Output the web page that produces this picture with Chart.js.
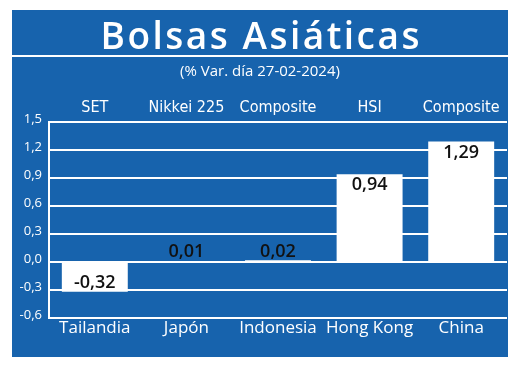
<!DOCTYPE html>
<html><head><meta charset="utf-8">
<script src="https://cdn.jsdelivr.net/npm/chart.js@4"></script>
<style>
html,body{margin:0;padding:0;background:#fff;}
#panel{position:absolute;left:12px;top:10px;width:496px;height:347px;background:#1763ad;}
canvas{display:block;}
</style></head><body>
<div id="panel"><canvas id="c" width="496" height="347"></canvas></div>
<script>
const countries = ['Tailandia', 'Japón', 'Indonesia', 'Hong Kong', 'China'];
const indices = ['SET', 'Nikkei 225', 'Composite', 'HSI', 'Composite'];
const changes = [-0.32, 0.01, 0.02, 0.94, 1.29];
const yTicks = [-0.6, -0.3, 0, 0.3, 0.6, 0.9, 1.2, 1.5];
const titleText = 'Bolsas Asiáticas';
const subtitleText = '(% Var. día 27-02-2024)';

const fmtTick = v => v.toFixed(1).replace('.', ',');
const fmtVal = v => v.toFixed(2).replace('.', ',');

const headerPlugin = {
  id: 'header',
  afterDraw(chart) {
    const ctx = chart.ctx, w = chart.width;
    ctx.save();
    ctx.fillStyle = '#fff';
    ctx.textAlign = 'center';
    ctx.textBaseline = 'alphabetic';
    ctx.font = '600 37px "Open Sans"';
    ctx.letterSpacing = '2.5px';
    ctx.fillText(titleText, w / 2 + 1.25, 39);
    ctx.letterSpacing = '0px';
    ctx.fillRect(0, 45, w, 2);
    ctx.font = '15px "Open Sans"';
    ctx.textBaseline = 'middle';
    ctx.fillText(subtitleText, w / 2, 62);
    ctx.restore();
  }
};

const valuePlugin = {
  id: 'values',
  afterDatasetsDraw(chart) {
    const ctx = chart.ctx;
    const meta = chart.getDatasetMeta(0);
    const ys = chart.scales.y;
    ctx.save();
    ctx.fillStyle = '#111';
    ctx.font = '600 18px "Open Sans"';
    ctx.textAlign = 'center';
    ctx.textBaseline = 'middle';
    meta.data.forEach((bar, i) => {
      const v = changes[i];
      let y;
      if (v < 0) y = bar.y - 9;
      else if (v < 0.2) y = ys.getPixelForValue(0) - 10;
      else y = bar.y + 11;
      ctx.fillText(fmtVal(v), bar.x, y);
    });
    ctx.restore();
  }
};

new Chart(document.getElementById('c'), {
  type: 'bar',
  data: {
    labels: countries,
    datasets: [{
      data: changes,
      backgroundColor: '#ffffff',
      barPercentage: 0.72,
      categoryPercentage: 1,
      xAxisID: 'x',
      yAxisID: 'y'
    }]
  },
  options: {
    responsive: false,
    animation: false,
    devicePixelRatio: 1,
    layout: { padding: { top: 82, right: 1, left: 0, bottom: 0 } },
    plugins: { legend: { display: false }, tooltip: { enabled: false } },
    scales: {
      x: {
        position: 'bottom',
        grid: { display: false, drawTicks: false },
        border: { display: false },
        ticks: { color: '#fff', font: { family: '"Open Sans"', size: 17 }, padding: 0, maxRotation: 0, autoSkip: false },
        afterFit(s) { s.height = 39; }
      },
      x2: {
        type: 'category',
        position: 'top',
        labels: indices,
        grid: { display: false, drawTicks: false },
        border: { display: false },
        ticks: { color: '#fff', font: { family: '"DejaVu Sans"', weight: 'condensed', size: 16 }, padding: 5, maxRotation: 0, autoSkip: false },
        afterFit(s) { s.height = 30; }
      },
      y: {
        min: -0.6,
        max: 1.5,
        afterBuildTicks(s) { s.ticks = yTicks.map(v => ({ value: v })); },
        grid: { color: '#fff', lineWidth: 2, drawTicks: false },
        border: { color: '#fff', width: 2 },
        ticks: { color: '#fff', font: { family: '"Open Sans"', size: 13 }, padding: 7, labelOffset: -3, callback: v => fmtTick(v) },
        afterFit(s) { s.width = 37; }
      }
    }
  },
  plugins: [headerPlugin, valuePlugin]
});
</script>
</body></html>
